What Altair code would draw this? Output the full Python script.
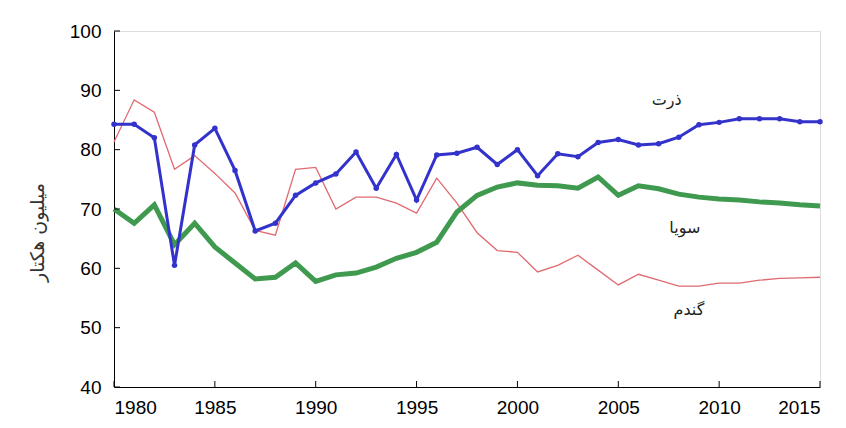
import altair as alt
import pandas as pd

years = list(range(1980, 2016))
corn = [84.3, 84.3, 82.0, 60.5, 80.8, 83.6, 76.5, 66.3, 67.6, 72.3, 74.4, 75.9,
        79.6, 73.5, 79.2, 71.5, 79.1, 79.4, 80.4, 77.5, 80.0, 75.6, 79.3, 78.8,
        81.2, 81.7, 80.8, 81.0, 82.1, 84.2, 84.6, 85.2, 85.2, 85.2, 84.7, 84.7]
soy = [70.0, 67.6, 70.7, 64.0, 67.6, 63.6, 60.9, 58.2, 58.5, 60.9, 57.8, 58.9,
       59.2, 60.2, 61.7, 62.7, 64.4, 69.5, 72.3, 73.7, 74.4, 74.0, 73.9, 73.5,
       75.4, 72.3, 73.9, 73.4, 72.5, 72.0, 71.7, 71.5, 71.2, 71.0, 70.7, 70.5]
wheat = [81.3, 88.4, 86.3, 76.7, 79.0, 76.0, 72.7, 66.4, 65.6, 76.7, 77.0, 70.0,
         72.0, 72.0, 71.0, 69.3, 75.2, 71.0, 66.0, 63.0, 62.7, 59.4, 60.5, 62.2,
         59.7, 57.2, 59.0, 58.0, 57.0, 57.0, 57.5, 57.5, 58.0, 58.3, 58.4, 58.5]

series_names = ["گندم", "سویا", "ذرت"]
series_colors = ["#e06a70", "#3f9a50", "#3333cc"]

label_text = ["ذرت", "سویا", "گندم"]
label_x = [2007.4, 2008.3, 2008.5]
label_y = [88.4, 66.8, 52.9]

y_ticks = [40, 50, 60, 70, 80, 90, 100]
x_ticks = [1980, 1985, 1990, 1995, 2000, 2005, 2010, 2015]

rows = []
for name, vals in zip(series_names, [wheat, soy, corn]):
    for yr, v in zip(years, vals):
        rows.append({"year": yr, "value": v, "crop": name})
df = pd.DataFrame(rows)

labels_df = pd.DataFrame({"text": label_text, "year": label_x, "value": label_y})
yt_df = pd.DataFrame({"value": y_ticks})
xt_df = pd.DataFrame({"year": x_ticks})

W, H = 706, 356

xs = alt.Scale(domain=[1980, 2015], nice=False, zero=False)
ys = alt.Scale(domain=[40, 100], nice=False, zero=False)
color = alt.Color("crop:N", scale=alt.Scale(domain=series_names, range=series_colors), legend=None)

x_enc = alt.X("year:Q", scale=xs, axis=alt.Axis(
    values=x_ticks, format="d", title=None, ticks=False, grid=False,
    labelFontSize=19, labelColor="black", labelPadding=11, labelFont="Liberation Sans",
    domainColor="black", domainWidth=1))
y_enc = alt.Y("value:Q", scale=ys, axis=alt.Axis(
    values=y_ticks, title="میلیون هکتار", ticks=False, grid=False,
    labelFontSize=19, labelColor="black", labelPadding=13, labelFont="Liberation Sans",
    domainColor="black", domainWidth=1, titleFont="DejaVu Sans", titleFontSize=19,
    titleFontWeight="normal", titleColor="#333333", titlePadding=22, titleY=201))

base = alt.Chart(df)

wheat_l = base.transform_filter(alt.datum.crop == "گندم").mark_line(strokeWidth=1.3).encode(
    x=x_enc, y=y_enc, color=color)
soy_l = base.transform_filter(alt.datum.crop == "سویا").mark_line(strokeWidth=5).encode(
    x="year:Q", y="value:Q", color=color)
corn_l = base.transform_filter(alt.datum.crop == "ذرت").mark_line(
    strokeWidth=3, point=alt.OverlayMarkDef(filled=True, size=30, color="#3333cc")).encode(
    x="year:Q", y="value:Q", color=color)

texts = alt.Chart(labels_df).mark_text(font="DejaVu Sans", fontSize=16, color="#222222").encode(
    x="year:Q", y="value:Q", text="text:N")

ytick = alt.Chart(yt_df).mark_rule(color="black", strokeWidth=1).encode(
    y="value:Q", x=alt.value(0), x2=alt.value(6))
xtick = alt.Chart(xt_df).mark_rule(color="black", strokeWidth=1).encode(
    x="year:Q", y=alt.value(H), y2=alt.value(H - 6))

chart = alt.layer(wheat_l, soy_l, corn_l, texts, ytick, xtick).properties(
    width=W, height=H,
    autosize=alt.AutoSizeParams(type="none"),
    padding={"left": 106, "top": 23, "right": 16, "bottom": 33},
).configure_view(stroke=None).configure(background="white")

chart.save("out.html", embed_options={"renderer": "svg", "actions": False})
